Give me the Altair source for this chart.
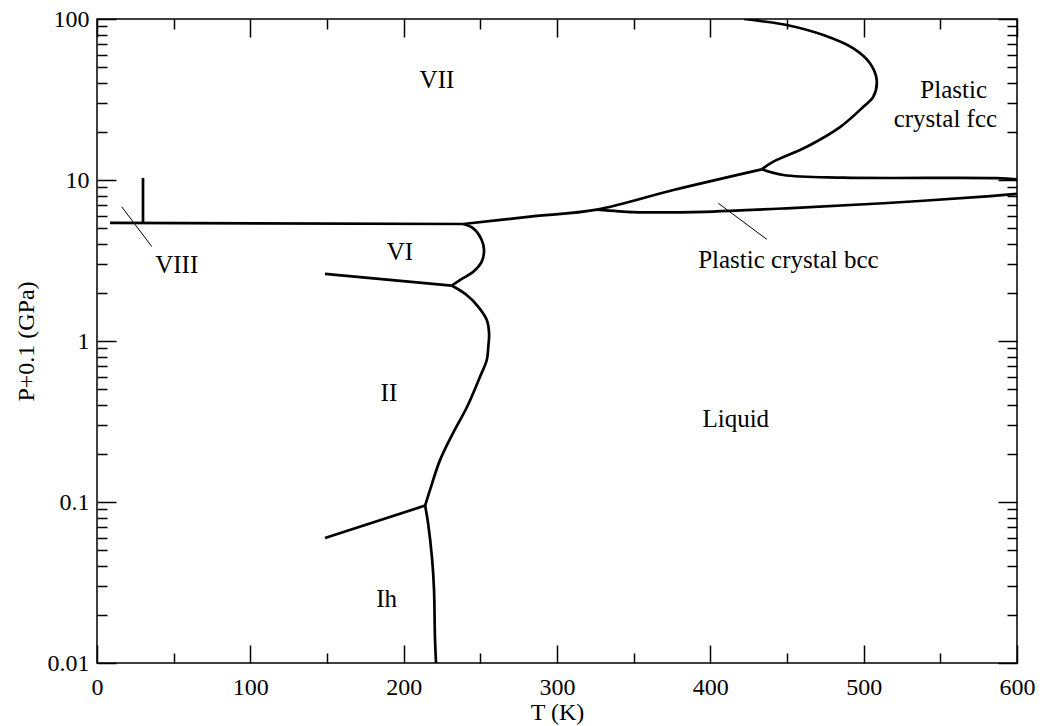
import altair as alt
import pandas as pd

FONT = "Liberation Serif"

# ---------------- data ----------------
boundary_names = [
    "VIII-VII", "VIII-VII vertical", "VI-Liquid", "VI-II", "II-Liquid",
    "Ih-II", "Ih-Liquid", "VII-Liquid/bcc", "bcc-Liquid", "fcc-bcc", "VII-fcc",
]
boundary_T = [
    [8.5, 238.9],
    [30.0, 30.0],
    [238.9, 245.4, 250.9, 252.4, 250.9, 245.4, 236.7, 231.3],
    [148.7, 231.3],
    [231.3, 241.1, 248.7, 254.2, 255.7, 255.2, 254.2, 249.8, 241.3, 232.2, 223.7, 217.2, 214.0],
    [148.7, 214.0],
    [214.0, 215.9, 218.6, 219.8, 220.4, 221.1],
    [238.9, 282.4, 326.0, 375.9, 433.5],
    [326.0, 349.6, 360.6, 388.7, 449.8, 512.8, 578.0, 600.0],
    [433.5, 447.6, 486.7, 586.7, 600.0],
    [422.0, 432.4, 449.8, 473.7, 493.3, 504.1, 508.5, 506.3, 499.8, 484.8, 462.9, 441.1, 433.5],
]
boundary_P = [
    [5.42, 5.33],
    [5.42, 10.3],
    [5.33, 5.01, 4.24, 3.67, 3.11, 2.69, 2.39, 2.21],
    [2.61, 2.21],
    [2.21, 1.93, 1.63, 1.35, 1.116, 0.922, 0.762, 0.60, 0.389, 0.268, 0.182, 0.119, 0.095],
    [0.0597, 0.095],
    [0.095, 0.0741, 0.0437, 0.0284, 0.0145, 0.01],
    [5.33, 5.92, 6.55, 8.67, 11.65],
    [6.55, 6.32, 6.30, 6.32, 6.67, 7.17, 7.88, 8.2],
    [11.65, 10.74, 10.34, 10.27, 10.1],
    [100.0, 97.2, 91.8, 79.5, 65.7, 53.1, 41.8, 32.9, 28.5, 21.4, 16.1, 13.0, 11.65],
]

pointer_names = ["VIII pointer", "bcc pointer"]
pointer_T = [[16.1, 35.7], [405.2, 436.8]]
pointer_P = [[6.82, 3.86], [7.17, 4.28]]

label_text = ["VII", "VIII", "VI", "II", "Ih", "Liquid", "Plastic crystal bcc"]
label_T = [221.7, 52.0, 197.6, 190.4, 188.9, 416.6, 450.9]
label_P = [37.3, 2.66, 3.18, 0.4256, 0.02218, 0.2938, 2.83]

fcc_text = ["Plastic", "crystal fcc"]
fcc_T = [558.7, 553.3]
fcc_P = [32.2, 21.4]

x_major = [0, 100, 200, 300, 400, 500, 600]
x_minor = [50, 150, 250, 350, 450, 550]
y_major = [0.01, 0.1, 1, 10, 100]
y_minor = [k * 10.0 ** e for e in range(-2, 2) for k in range(2, 10)]

# ---------------- tables ----------------
def seg_table(names, Ts, Ps):
    rows = []
    for n, ts, ps in zip(names, Ts, Ps):
        for i, (t, p) in enumerate(zip(ts, ps)):
            rows.append({"seg": n, "ord": i, "T": t, "P": p})
    return pd.DataFrame(rows)

df_b = seg_table(boundary_names, boundary_T, boundary_P)
df_p = seg_table(pointer_names, pointer_T, pointer_P)
df_l = pd.DataFrame({"label": label_text, "T": label_T, "P": label_P})
df_f = pd.DataFrame({"label": fcc_text, "T": fcc_T, "P": fcc_P})

xscale = alt.Scale(domain=[0, 600], nice=False, zero=False)
yscale = alt.Scale(type="log", domain=[0.01, 100], nice=False)

common = dict(domain=False, grid=False, tickColor="black", tickWidth=1.5,
              labelFlush=False, labelOverlap=False)

ax_x_bottom = alt.Axis(orient="bottom", values=x_major, tickSize=18, offset=-18,
                       labels=True, labelFont=FONT, labelFontSize=24, labelColor="black",
                       labelPadding=12, format="d",
                       title="T (K)", titleFont=FONT, titleFontSize=24,
                       titleFontWeight="normal", titleColor="black",
                       titleBaseline="alphabetic", titleY=74, **common)
ax_x_bottom_minor = alt.Axis(orient="bottom", values=x_minor, tickSize=10, offset=-10,
                             labels=False, title=None, **common)
ax_x_top = alt.Axis(orient="top", values=x_major, tickSize=18, offset=-18,
                    labels=False, title=None, **common)
ax_x_top_minor = alt.Axis(orient="top", values=x_minor, tickSize=10, offset=-10,
                          labels=False, title=None, **common)

ax_y_left = alt.Axis(orient="left", values=y_major, tickSize=19, offset=-19,
                     labels=True, labelFont=FONT, labelFontSize=24, labelColor="black",
                     labelPadding=8, format="~g",
                     title="P+0.1 (GPa)", titleFont=FONT, titleFontSize=24,
                     titleFontWeight="normal", titleColor="black",
                     titleBaseline="alphabetic", titleX=-83, titleY=322, titleAngle=270,
                     **common)
ax_y_left_minor = alt.Axis(orient="left", values=y_minor, tickSize=10, offset=-10,
                           labels=False, title=None, **common)
ax_y_right = alt.Axis(orient="right", values=y_major, tickSize=19, offset=-19,
                      labels=False, title=None, **common)
ax_y_right_minor = alt.Axis(orient="right", values=y_minor, tickSize=10, offset=-10,
                            labels=False, title=None, **common)

boundaries = alt.Chart(df_b).mark_line(
    color="black", strokeWidth=2.7, interpolate="catmull-rom", clip=True
).encode(
    x=alt.X("T:Q", scale=xscale, axis=ax_x_bottom),
    y=alt.Y("P:Q", scale=yscale, axis=ax_y_left),
    detail="seg:N",
    order="ord:Q",
)

pointers = alt.Chart(df_p).mark_line(color="black", strokeWidth=1, clip=True).encode(
    x=alt.X("T:Q", scale=xscale, axis=ax_x_bottom_minor),
    y=alt.Y("P:Q", scale=yscale, axis=ax_y_left_minor),
    detail="seg:N",
    order="ord:Q",
)

labels = alt.Chart(df_l).mark_text(
    font=FONT, fontSize=25, color="black", baseline="alphabetic", align="center"
).encode(
    x=alt.X("T:Q", scale=xscale, axis=ax_x_top),
    y=alt.Y("P:Q", scale=yscale, axis=ax_y_right),
    text="label:N",
)

fcc_labels = alt.Chart(df_f).mark_text(
    font=FONT, fontSize=25, color="black", baseline="alphabetic", align="center"
).encode(
    x=alt.X("T:Q", scale=xscale, axis=ax_x_top_minor),
    y=alt.Y("P:Q", scale=yscale, axis=ax_y_right_minor),
    text="label:N",
)

chart = alt.layer(boundaries, pointers, labels, fcc_labels).resolve_axis(
    x="independent", y="independent"
).properties(
    width=920, height=644,
    autosize=alt.AutoSizeParams(type="none"),
    padding={"left": 97, "top": 19, "right": 25, "bottom": 63},
    background="white",
).configure_view(stroke="black", strokeWidth=1.5)

chart.save("out.html", embed_options={"renderer": "svg", "actions": False})
